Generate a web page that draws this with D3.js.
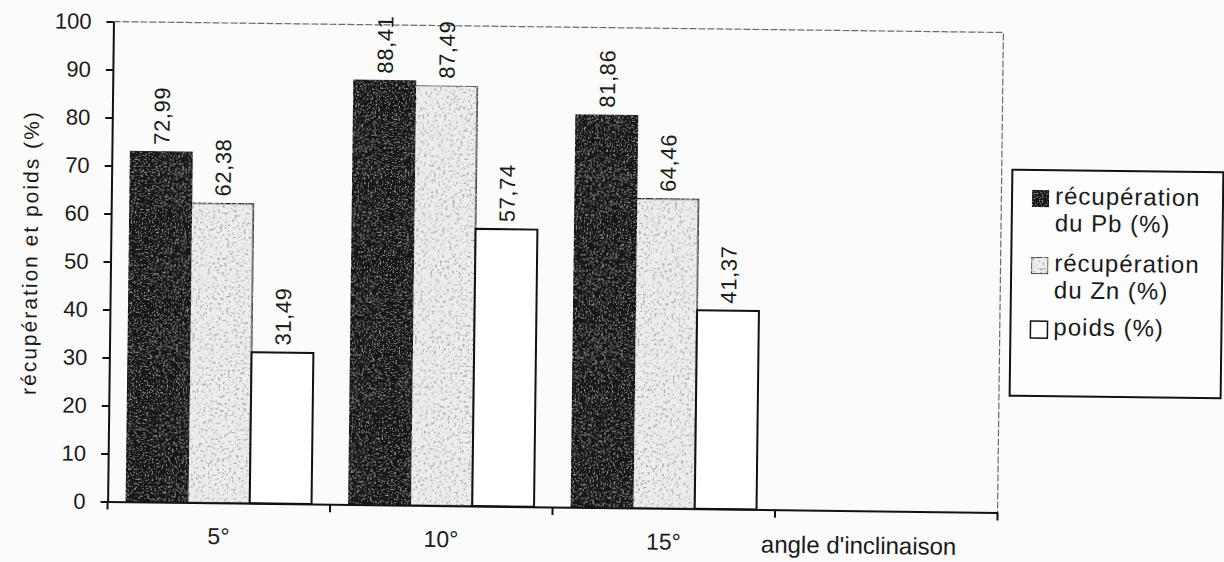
<!DOCTYPE html>
<html>
<head>
<meta charset="utf-8">
<script src="https://cdn.jsdelivr.net/npm/d3@7"></script>
<style>
  html, body { margin: 0; padding: 0; background: #fbfbfb; }
  svg { display: block; }
  text { font-family: "Liberation Sans", Arial, sans-serif; fill: #1a1a1a; }
</style>
</head>
<body>
<svg id="chart" width="1224" height="562"></svg>
<script>
// Angle classes on the x axis; a fourth, empty slot leaves room for the axis title
const categories = ["5°", "10°", "15°"];
const slots = [...categories, ""];

// Series (percent)
const seriesNames = ["récupération du Pb (%)", "récupération du Zn (%)", "poids (%)"];
const pbRecovery = [72.99, 88.41, 81.86];
const znRecovery = [62.38, 87.49, 64.46];
const weight = [31.49, 57.74, 41.37];
const seriesValues = [pbRecovery, znRecovery, weight];

// Axis ticks and legend text
const yTicks = [0, 10, 20, 30, 40, 50, 60, 70, 80, 90, 100];
const legendLines = [["récupération", "du Pb (%)"], ["récupération", "du Zn (%)"], ["poids (%)"]];
const yTitle = "récupération et poids (%)";
const xTitle = "angle d'inclinaison";

const svg = d3.select("#chart");
svg.append("rect").attr("width", 1224).attr("height", 562).attr("fill", "#fbfbfb");

// Grain textures for the two shaded series
const defs = svg.append("defs");
function grain(id, freq, seed, grey, gain, bias) {
  const f = defs.append("filter").attr("id", id)
    .attr("x", 0).attr("y", 0).attr("width", 1).attr("height", 1);
  f.append("feTurbulence").attr("type", "fractalNoise")
    .attr("baseFrequency", freq).attr("numOctaves", 2).attr("seed", seed).attr("result", "noise");
  f.append("feColorMatrix").attr("in", "noise").attr("type", "matrix")
    .attr("values", `0 0 0 0 ${grey}  0 0 0 0 ${grey}  0 0 0 0 ${grey}  ${gain} 0 0 0 ${bias}`)
    .attr("result", "dots");
  f.append("feComposite").attr("in", "dots").attr("in2", "SourceGraphic").attr("operator", "in").attr("result", "clipped");
  const m = f.append("feMerge");
  m.append("feMergeNode").attr("in", "SourceGraphic");
  m.append("feMergeNode").attr("in", "clipped");
}
grain("grainDark", 0.7, 4, 0.36, 5, -2.9);
grain("grainLight", 0.42, 9, 0.42, 8, -4.5);

const fills = ["#181818", "#ededed", "#ffffff"];
const filters = ["url(#grainDark)", "url(#grainLight)", null];
const strokeW = [1, 1.3, 2];

// Plot frame
const plotLeft = 110.5, plotRight = 1000.5, plotTop = 27, plotBottom = 507;
const g = svg.append("g").attr("transform", "rotate(0.7,555,267)");

const x0 = d3.scaleBand().domain(slots).range([plotLeft, plotRight]).padding(0);
const x1 = d3.scaleBand().domain(seriesNames).range([0, x0.bandwidth()]).paddingInner(0).paddingOuter(0.3);
const y = d3.scaleLinear().domain([0, 100]).range([plotBottom, plotTop]);

// Dashed top and right edges of the plot area
g.append("path")
  .attr("d", `M${plotLeft},${y(100)}H${plotRight}V${y(0)}`)
  .attr("fill", "none").attr("stroke", "#6a6a6a").attr("stroke-width", 1.2)
  .attr("stroke-dasharray", "7 2");

// Bars with their value labels
const groups = g.selectAll("g.cat").data(categories).join("g")
  .attr("class", "cat")
  .attr("transform", d => `translate(${x0(d)},0)`);

groups.each(function(cat, ci) {
  const grp = d3.select(this);
  seriesNames.forEach((s, si) => {
    const v = seriesValues[si][ci];
    grp.append("rect")
      .attr("x", x1(s)).attr("y", y(v))
      .attr("width", x1.bandwidth()).attr("height", y(0) - y(v))
      .attr("fill", fills[si])
      .attr("filter", filters[si])
      .attr("stroke", "#111").attr("stroke-width", strokeW[si]);
    const cx = x1(s) + x1.bandwidth() / 2;
    grp.append("text")
      .attr("transform", `translate(${cx},${y(v) - 7}) rotate(-90)`)
      .attr("dy", "0.36em")
      .attr("text-anchor", "start")
      .attr("font-size", 22)
      .attr("letter-spacing", 0.6)
      .text(v.toFixed(2).replace(".", ","));
  });
});

// Y axis
const yAxis = g.append("g").attr("transform", `translate(${plotLeft},0)`)
  .call(d3.axisLeft(y).tickValues(yTicks).tickSize(7).tickPadding(15).tickSizeOuter(0));
yAxis.select(".domain").attr("stroke", "#111").attr("stroke-width", 2);
yAxis.selectAll(".tick line").attr("stroke", "#111").attr("stroke-width", 2);
yAxis.selectAll(".tick text").attr("font-size", 22).attr("fill", "#1a1a1a")
  .style("font-family", "'Liberation Sans', Arial, sans-serif");

// X axis: line, ticks at slot boundaries, category labels at slot centres
const xAxis = g.append("g").attr("transform", `translate(0,${plotBottom})`)
  .call(d3.axisBottom(x0).tickSize(0).tickPadding(25).tickSizeOuter(0));
xAxis.select(".domain").attr("stroke", "#111").attr("stroke-width", 2);
xAxis.selectAll(".tick text").attr("font-size", 23).attr("fill", "#1a1a1a")
  .style("font-family", "'Liberation Sans', Arial, sans-serif");
const bounds = slots.map(d => x0(d)).concat([x0(slots[slots.length - 1]) + x0.bandwidth()]);
xAxis.selectAll("line.bound").data(bounds).join("line")
  .attr("class", "bound")
  .attr("x1", d => d).attr("x2", d => d)
  .attr("y1", 0).attr("y2", 8)
  .attr("stroke", "#111").attr("stroke-width", 2);

// Axis titles
g.append("text")
  .attr("x", 862).attr("y", 550)
  .attr("text-anchor", "middle").attr("font-size", 24)
  .text(xTitle);

g.append("text")
  .attr("transform", "translate(30,259) rotate(-90)")
  .attr("text-anchor", "middle").attr("dy", "0.35em")
  .attr("font-size", 21).attr("letter-spacing", 2)
  .text(yTitle);

// Legend
const lg = svg.append("g").attr("transform", "rotate(0.7,1116,284)");
lg.append("rect")
  .attr("x", 1011).attr("y", 171).attr("width", 211).attr("height", 226)
  .attr("fill", "#fdfdfd").attr("stroke", "#111").attr("stroke-width", 2);

const entryTop = [189, 256, 320];
legendLines.forEach((lines, i) => {
  lg.append("rect")
    .attr("x", 1031).attr("y", entryTop[i] + 2)
    .attr("width", 17).attr("height", 17)
    .attr("fill", fills[i]).attr("filter", filters[i])
    .attr("stroke", "#111").attr("stroke-width", 1.5);
  lines.forEach((t, li) => {
    lg.append("text")
      .attr("x", 1054).attr("y", entryTop[i] + 16 + li * 27)
      .attr("font-size", 24)
      .attr("letter-spacing", 1)
      .text(t);
  });
});
</script>
</body>
</html>
